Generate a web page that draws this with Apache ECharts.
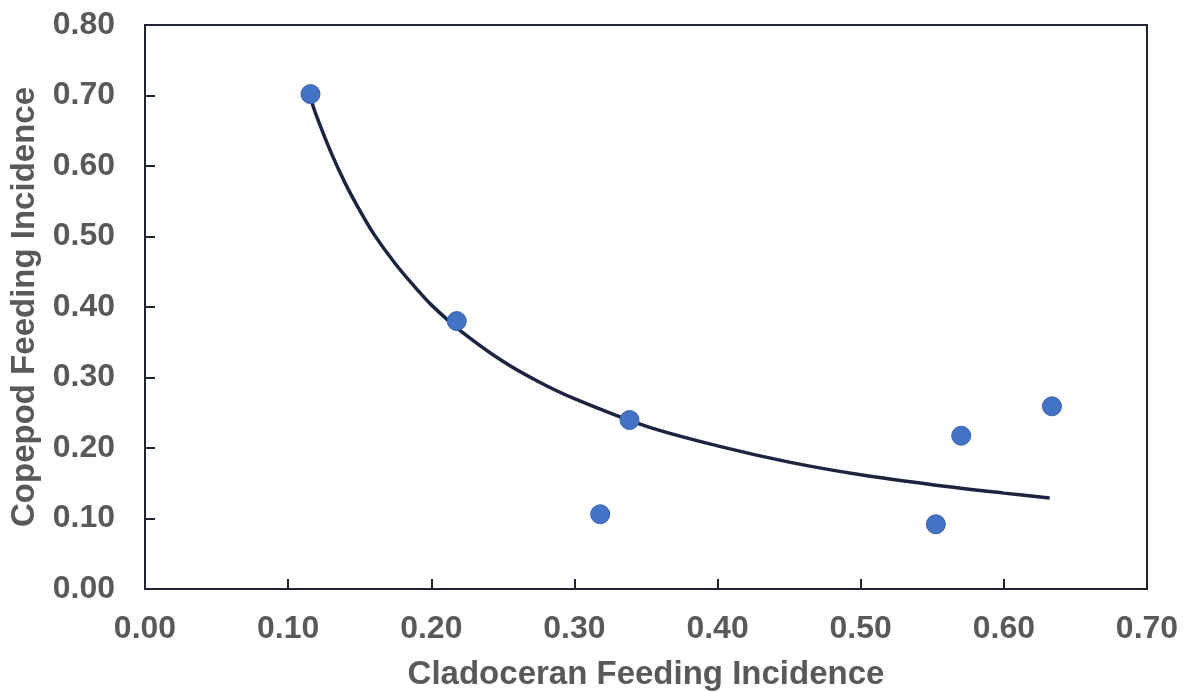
<!DOCTYPE html>
<html>
<head>
<meta charset="utf-8">
<script src="https://cdn.jsdelivr.net/npm/echarts@6/dist/echarts.min.js"></script>
<style>
  html, body { margin: 0; padding: 0; background: #ffffff; }
  #chart { width: 1188px; height: 692px; }
</style>
</head>
<body>
<div id="chart"></div>
<script>
// Observed feeding incidence per sample
const cladoceran = [0.1156, 0.2178, 0.318, 0.3385, 0.5525, 0.5702, 0.6336];
const copepod    = [0.702, 0.380, 0.106, 0.2397, 0.0918, 0.2174, 0.2591];

// Power trend line, sampled along its length
const trendX = [0.115, 0.12, 0.13, 0.14, 0.15, 0.16, 0.175, 0.19, 0.2, 0.22, 0.25, 0.275, 0.3, 0.35, 0.4, 0.45, 0.5, 0.55, 0.6, 0.632];
const trendY = [0.700, 0.670, 0.619, 0.575, 0.537, 0.503, 0.461, 0.425, 0.403, 0.367, 0.323, 0.294, 0.270, 0.231, 0.203, 0.180, 0.162, 0.148, 0.136, 0.129];

const xTicks = [0, 0.1, 0.2, 0.3, 0.4, 0.5, 0.6, 0.7];
const yTicks = [0, 0.1, 0.2, 0.3, 0.4, 0.5, 0.6, 0.7, 0.8];

const axisColor = '#1f2433';
const textColor = '#595959';
const fontFamily = '"Liberation Sans", Arial, sans-serif';

const points = cladoceran.map((x, i) => [x, copepod[i]]);
const trend = trendX.map((x, i) => [x, trendY[i]]);

function axisBase(ticks, name, gap, labelMargin) {
  return {
    type: 'value',
    min: ticks[0],
    max: ticks[ticks.length - 1],
    interval: 0.1,
    name: name,
    nameLocation: 'middle',
    nameGap: gap,
    nameTextStyle: { color: textColor, fontFamily: fontFamily, fontWeight: 'bold', fontSize: 33 },
    axisLine: { show: true, lineStyle: { color: axisColor, width: 2 } },
    axisTick: { show: true, inside: true, length: 10, lineStyle: { color: axisColor, width: 2 } },
    axisLabel: {
      color: textColor, fontFamily: fontFamily, fontWeight: 'bold', fontSize: 32,
      margin: labelMargin,
      formatter: v => v.toFixed(2)
    },
    splitLine: { show: false }
  };
}

const chart = echarts.init(document.getElementById('chart'), null, { renderer: 'canvas' });
chart.setOption({
  animation: false,
  backgroundColor: '#ffffff',
  grid: {
    left: 145, right: 41, top: 25, bottom: 103,
    outerBoundsMode: 'none',
    containLabel: false,
    show: true, borderColor: axisColor, borderWidth: 2, backgroundColor: 'transparent'
  },
  xAxis: axisBase(xTicks, 'Cladoceran Feeding Incidence', 69, 24),
  yAxis: axisBase(yTicks, 'Copepod Feeding Incidence', 98, 30),
  series: [
    {
      type: 'line',
      data: trend,
      smooth: 0.35,
      symbol: 'none',
      lineStyle: { color: '#1c2540', width: 3.5 },
      z: 2
    },
    {
      type: 'scatter',
      data: points,
      symbol: 'circle',
      symbolSize: 19,
      itemStyle: { color: '#4472c4', borderColor: '#3a62aa', borderWidth: 1, opacity: 1 },
      z: 3
    }
  ]
});
</script>
</body>
</html>
